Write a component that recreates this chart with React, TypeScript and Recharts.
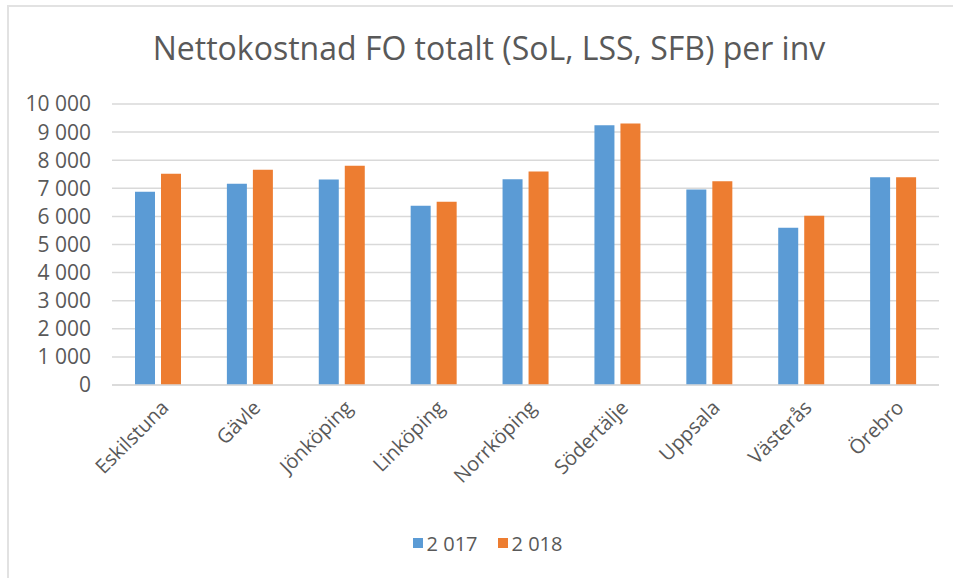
import { BarChart, Bar, XAxis, YAxis, CartesianGrid, Legend } from 'recharts';

const CITIES = [
  'Eskilstuna', 'Gävle', 'Jönköping', 'Linköping', 'Norrköping',
  'Södertälje', 'Uppsala', 'Västerås', 'Örebro',
];
const COST_2017 = [6880, 7160, 7310, 6380, 7320, 9240, 6960, 5600, 7390];
const COST_2018 = [7520, 7660, 7800, 6520, 7600, 9310, 7250, 6020, 7390];
const Y_TICKS = [0, 1000, 2000, 3000, 4000, 5000, 6000, 7000, 8000, 9000, 10000];

const SERIES = [
  { key: 'y2017', label: '2 017', color: '#5B9BD5' },
  { key: 'y2018', label: '2 018', color: '#ED7D31' },
];

const FONT = "'Open Sans', 'DejaVu Sans', sans-serif";
const TEXT = '#595959';

const data = CITIES.map((city, i) => ({
  city,
  y2017: COST_2017[i],
  y2018: COST_2018[i],
}));

// swedish style thousands: "10 000"
const fmt = (v: number) => String(v).replace(/\B(?=(\d{3})+(?!\d))/g, ' ');

function CityTick({ x, y, payload }: { x?: number; y?: number; payload?: { value: string } }) {
  return (
    <g transform={`translate(${(x ?? 0) + 7},${(y ?? 0) + 11})`}>
      <text
        transform="rotate(-45)"
        textAnchor="end"
        dy="0.35em"
        fill={TEXT}
        fontSize={20}
        fontFamily={FONT}
      >
        {payload?.value}
      </text>
    </g>
  );
}

function YearLegend() {
  return (
    <div style={{ display: 'flex', justifyContent: 'center', alignItems: 'center', height: 30, marginLeft: 44 }}>
      {SERIES.map((s) => (
        <div key={s.key} style={{ display: 'flex', alignItems: 'center', marginRight: 20 }}>
          <div style={{ width: 10, height: 10, background: s.color, marginRight: 4 }} />
          <span style={{ fontFamily: FONT, fontSize: 20, color: TEXT }}>{s.label}</span>
        </div>
      ))}
    </div>
  );
}

export default function App() {
  return (
    <div style={{ position: 'absolute', left: 0, top: 0, width: 953, height: 578, overflow: 'hidden', background: '#fff' }}>
      <div
        style={{
          position: 'absolute', left: 7, top: 5, width: 1000, height: 600,
          borderLeft: '2px solid #e2e2e2', borderTop: '2px solid #e2e2e2',
        }}
      />
      <div
        style={{
          position: 'absolute', left: 0, top: 32, width: 978, textAlign: 'center',
          fontFamily: FONT, fontSize: 32, lineHeight: '32px', color: TEXT,
        }}
      >
        Nettokostnad FO totalt (SoL, LSS, SFB) per inv
      </div>
      <div style={{ position: 'absolute', left: 0, top: 0 }}>
        <BarChart
          width={953}
          height={578}
          data={data}
          margin={{ top: 104, right: 14, bottom: 20, left: 12 }}
          barGap={6}
          barSize={20}
        >
          <CartesianGrid vertical={false} stroke="#d9d9d9" strokeWidth={1.5} />
          <XAxis
            dataKey="city"
            height={143}
            interval={0}
            tickLine={false}
            axisLine={{ stroke: '#d9d9d9', strokeWidth: 1.5 }}
            tick={<CityTick />}
          />
          <YAxis
            width={100}
            domain={[0, 10000]}
            ticks={Y_TICKS}
            interval={0}
            axisLine={false}
            tickLine={false}
            tickSize={0}
            tickMargin={21}
            tickFormatter={fmt}
            tick={{ fill: TEXT, fontSize: 21, fontFamily: FONT }}
          />
          <Legend verticalAlign="bottom" height={30} content={<YearLegend />} />
          {SERIES.map((s) => (
            <Bar key={s.key} dataKey={s.key} name={s.label} fill={s.color} isAnimationActive={false} />
          ))}
        </BarChart>
      </div>
    </div>
  );
}
